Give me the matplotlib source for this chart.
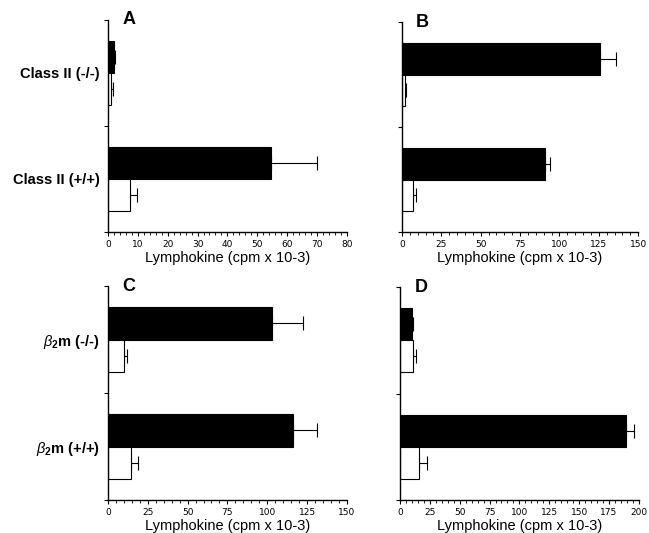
import matplotlib
matplotlib.use("Agg")
import matplotlib.pyplot as plt
from matplotlib.ticker import MultipleLocator

plt.rcParams["font.family"] = ["Liberation Sans", "DejaVu Sans"]
plt.rcParams["mathtext.fontset"] = "custom"
plt.rcParams["mathtext.rm"] = "Liberation Sans:bold"
plt.rcParams["mathtext.it"] = "Liberation Sans:italic"
plt.rcParams["mathtext.bf"] = "Liberation Sans:bold"

# Groups (top to bottom)
labels_class = ["Class II (-/-)", "Class II (+/+)"]
labels_b2m = [r"$\beta_{\mathbf{2}}$m (-/-)", r"$\beta_{\mathbf{2}}$m (+/+)"]

# Panel A
a_black = [2.0, 54.5]
a_black_err = [0.5, 15.5]
a_white = [1.0, 7.4]
a_white_err = [0.8, 2.2]

# Panel B
b_black = [126, 90.5]
b_black_err = [10, 3.5]
b_white = [1.9, 7.0]
b_white_err = [0.6, 2.0]

# Panel C
c_black = [103, 116]
c_black_err = [19.5, 15]
c_white = [10, 14.5]
c_white_err = [2.0, 4.5]

# Panel D
d_black = [9.8, 189]
d_black_err = [0.7, 7]
d_white = [11, 16]
d_white_err = [2.0, 7.0]

panels = [
    # letter, black, black err, white, white err, xmax, major, minor, ylabels, axes rect
    ("A", a_black, a_black_err, a_white, a_white_err, 80, 10, 2, labels_class,
     [0.1664, 0.5647, 0.368, 0.398]),
    ("B", b_black, b_black_err, b_white, b_white_err, 150, 25, 5, None,
     [0.6194, 0.5647, 0.364, 0.394]),
    ("C", c_black, c_black_err, c_white, c_white_err, 150, 25, 5, labels_b2m,
     [0.1664, 0.0619, 0.368, 0.4015]),
    ("D", d_black, d_black_err, d_white, d_white_err, 200, 25, 5, None,
     [0.6163, 0.0619, 0.368, 0.3996]),
]

fig = plt.figure(figsize=(6.49, 5.33), dpi=100)

centers = [0.5, 1.5]
h = 0.3

for letter, blk, blk_e, wht, wht_e, xmax, major, minor, ylabs, rect in panels:
    ax = fig.add_axes(rect)
    yb = [c - h / 2 for c in centers]
    yw = [c + h / 2 for c in centers]
    ax.barh(yb, blk, height=h, color="black", edgecolor="black", linewidth=0.8, zorder=2)
    ax.barh(yw, wht, height=h, color="white", edgecolor="black", linewidth=0.8, zorder=2)
    ax.errorbar(blk, yb, xerr=[[0] * len(blk), blk_e], fmt="none", ecolor="black",
                elinewidth=0.8, capsize=5, capthick=0.8, zorder=1)
    ax.errorbar(wht, yw, xerr=[[0] * len(wht), wht_e], fmt="none", ecolor="black",
                elinewidth=0.8, capsize=5, capthick=0.8, zorder=1)

    ax.set_xlim(0, xmax)
    ax.set_ylim(2, 0)
    ax.xaxis.set_major_locator(MultipleLocator(major))
    ax.xaxis.set_minor_locator(MultipleLocator(minor))
    ax.set_yticks([0, 1, 2])
    ax.set_yticklabels([])
    ax.set_yticks(centers, minor=True)
    if ylabs:
        ax.set_yticklabels(ylabs, minor=True, fontsize=10.5, fontweight="bold")
    ax.tick_params(axis="y", which="major", length=3, width=0.8)
    ax.tick_params(axis="y", which="minor", length=0, pad=6)
    ax.tick_params(axis="x", which="major", length=3, width=0.8, labelsize=6.5, pad=3)
    ax.tick_params(axis="x", which="minor", length=2, width=0.6)
    for t in ax.get_xticklabels():
        t.set_family("DejaVu Sans")

    for s in ["top", "right"]:
        ax.spines[s].set_visible(False)
    ax.spines["left"].set_linewidth(1)
    ax.spines["bottom"].set_linewidth(1)

    ax.set_xlabel("Lymphokine (cpm x 10-3)", fontsize=10.5, labelpad=1)
    ax.text(0.06, 1.0, letter, transform=ax.transAxes, fontsize=13,
            fontweight="bold", ha="left", va="center")

fig.savefig("out.png", dpi=100)
